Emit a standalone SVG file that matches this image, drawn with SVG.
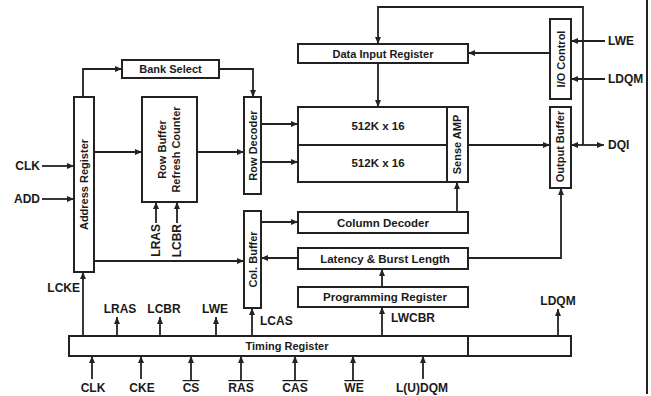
<svg xmlns="http://www.w3.org/2000/svg" width="651" height="396" viewBox="0 0 651 396">
<defs>
<marker id="ah" viewBox="0 0 7 6" refX="7" refY="3" markerWidth="7" markerHeight="6" markerUnits="userSpaceOnUse" orient="auto">
<path d="M0,0 L7,3 L0,6 z" fill="#222"/>
</marker>
<style>
.box{fill:#fff;stroke:#222;stroke-width:2}
.t{font-family:"Liberation Sans",Arial,sans-serif;font-weight:bold;font-size:11px;fill:#1a1a1a;text-anchor:middle}
.l{font-family:"Liberation Sans",Arial,sans-serif;font-weight:bold;font-size:12px;fill:#1a1a1a}
.c path{fill:none;stroke:#222;stroke-width:1.8}
.a{marker-end:url(#ah)}
.ov{text-decoration:overline}
</style>
</defs>
<rect width="651" height="396" fill="#fff"/>

<g id="bank-select"><rect class="box" x="122" y="60" width="97" height="18"/><text class="t" x="170.5" y="73">Bank Select</text></g>
<g id="address-register"><rect class="box" x="74" y="97" width="20" height="175"/><text class="t" transform="translate(88,184.5) rotate(-90)">Address Register</text></g>
<g id="row-buffer"><rect class="box" x="142" y="97" width="55" height="105"/><text class="t" transform="translate(166,149.5) rotate(-90)">Row Buffer</text><text class="t" transform="translate(180,149.5) rotate(-90)">Refresh Counter</text></g>
<g id="row-decoder"><rect class="box" x="244" y="97" width="17" height="97"/><text class="t" transform="translate(256.5,145.5) rotate(-90)">Row Decoder</text></g>
<g id="col-buffer"><rect class="box" x="244" y="211" width="17" height="97"/><text class="t" transform="translate(256.5,259.5) rotate(-90)">Col. Buffer</text></g>
<g id="data-input-register"><rect class="box" x="298" y="44" width="170" height="19"/><text class="t" x="383" y="58">Data Input Register</text></g>
<g id="array"><rect class="box" x="298" y="107" width="149" height="75"/><path d="M298,145 H447" stroke="#222" stroke-width="2"/><text class="t" x="378" y="130" style="font-size:11.5px">512K x 16</text><text class="t" x="378" y="167" style="font-size:11.5px">512K x 16</text></g>
<g id="sense-amp"><rect class="box" x="447" y="107" width="21" height="75"/><text class="t" transform="translate(461,144.5) rotate(-90)">Sense AMP</text></g>
<g id="io-control"><rect class="box" x="550" y="19" width="21" height="80"/><text class="t" transform="translate(565,59) rotate(-90)">I/O Control</text></g>
<g id="output-buffer"><rect class="box" x="550" y="107" width="21" height="81"/><text class="t" transform="translate(564,146.5) rotate(-90)">Output Buffer</text></g>
<g id="column-decoder"><rect class="box" x="298" y="212" width="170" height="21"/><text class="t" x="383" y="226.5" style="font-size:11.5px">Column Decoder</text></g>
<g id="latency"><rect class="box" x="298" y="248" width="170" height="21"/><text class="t" x="385" y="262.5" style="font-size:11.5px">Latency &amp; Burst Length</text></g>
<g id="programming-register"><rect class="box" x="298" y="287" width="170" height="20"/><text class="t" x="385" y="301" style="font-size:11.5px">Programming Register</text></g>
<g id="timing-register"><rect class="box" x="69" y="336" width="399" height="20"/><rect class="box" x="468" y="336" width="103" height="20"/><text class="t" x="287" y="350">Timing Register</text></g>

<g id="connectors" class="c">
<path class="a" d="M83,97 V69 H122"/>
<path class="a" d="M219,69 H253 V97"/>
<path class="a" d="M94,152 H142"/>
<path class="a" d="M197,152 H244"/>
<path class="a" d="M261,124 H298"/>
<path class="a" d="M261,162 H298"/>
<path class="a" d="M42,166 H74"/>
<path class="a" d="M42,199 H74"/>
<path class="a" d="M156,223 V202"/>
<path class="a" d="M177,223 V202"/>
<path class="a" d="M94,261 H244"/>
<path class="a" d="M261,222 H298"/>
<path class="a" d="M298,258 H261"/>
<path class="a" d="M468,258 H561 V188"/>
<path class="a" d="M457,212 V182"/>
<path class="a" d="M382,287 V269"/>
<path class="a" d="M382,336 V307"/>
<path class="a" d="M83,336 V272"/>
<path class="a" d="M117,336 V317"/>
<path class="a" d="M160,336 V317"/>
<path class="a" d="M216,336 V317"/>
<path class="a" d="M252,336 V308"/>
<path class="a" d="M558,336 V309"/>
<path class="a" d="M92,379 V356"/>
<path class="a" d="M141,379 V356"/>
<path class="a" d="M191,380 V356"/>
<path class="a" d="M241,380 V356"/>
<path class="a" d="M295,380 V356"/>
<path class="a" d="M353,380 V356"/>
<path class="a" d="M423,379 V356"/>
<path class="a" d="M583,145 V7 H378 V44"/>
<path class="a" d="M583,145 H571"/>
<path class="a" d="M583,145 H604"/>
<path class="a" d="M605,41 H571"/>
<path class="a" d="M605,79 H571"/>
<path class="a" d="M550,53 H468"/>
<path class="a" d="M378,63 V107"/>
<path class="a" d="M468,145 H550"/>
<path d="M647,0 V394" style="stroke-width:2"/>
</g>

<g id="labels">
<text class="l" x="40" y="170" text-anchor="end">CLK</text>
<text class="l" x="40" y="203" text-anchor="end">ADD</text>
<text class="l" transform="translate(160,224) rotate(-90)" text-anchor="end">LRAS</text>
<text class="l" transform="translate(181,224) rotate(-90)" text-anchor="end">LCBR</text>
<text class="l" x="80" y="292" text-anchor="end">LCKE</text>
<text class="l" x="120" y="313" text-anchor="middle">LRAS</text>
<text class="l" x="164" y="313" text-anchor="middle">LCBR</text>
<text class="l" x="215" y="313" text-anchor="middle">LWE</text>
<text class="l" x="260" y="325">LCAS</text>
<text class="l" x="391" y="322">LWCBR</text>
<text class="l" x="558" y="305" text-anchor="middle">LDQM</text>
<text class="l" x="608" y="45">LWE</text>
<text class="l" x="608" y="83">LDQM</text>
<text class="l" x="608" y="149">DQI</text>
<text class="l" x="93" y="392" text-anchor="middle">CLK</text>
<text class="l" x="142" y="392" text-anchor="middle">CKE</text>
<text class="l ov" x="191" y="392" text-anchor="middle">CS</text>
<text class="l ov" x="241" y="392" text-anchor="middle">RAS</text>
<text class="l ov" x="295" y="392" text-anchor="middle">CAS</text>
<text class="l ov" x="354" y="392" text-anchor="middle">WE</text>
<text class="l" x="422" y="392" text-anchor="middle">L(U)DQM</text>
</g>
</svg>
